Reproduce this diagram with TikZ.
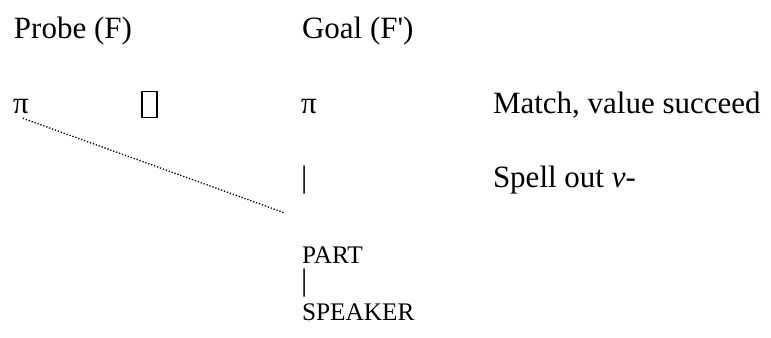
\documentclass[tikz,border=0pt]{standalone}
\usepackage{fontspec}
\setmainfont{Liberation Serif}
\usepackage{tikz}
\usetikzlibrary{calc}

\begin{document}
                \begin{tikzpicture}[x=0.3871pt,y=-0.3871pt,
                    every node/.style={inner sep=0pt,outer sep=0pt,anchor=base west,font=\fontsize{12}{14}\selectfont},
                    feat/.style={font=\fontsize{9.8}{12}\selectfont}]
                    \useasboundingbox (0,0) rectangle (771,337);
                    \node (probe) at (14,38) {Probe (F)};
                    \node (goal) at (302,38) {Goal (F\textquotesingle)};
                    \node (piprobe) at (13,113) {π};
                    \node (gap) at (149.5,104.5) [anchor=center,draw,line width=0.4pt,minimum width=5.8pt,minimum height=10.4pt] {};
                    \node (pigoal) at (301,113) {π};
                    \node (match) at (493,113) {Match, value succeed};
                    \node (bartop) at (301,187) {|};
                    \node (spell) at (493,187) {Spell out \textit{v}-};
                    \node (part) at (302,263) [feat] {PART};
                    \node (barlow) at (301,290) {|};
                    \node (speaker) at (302,320) [feat] {SPEAKER};
                    \coordinate (dotend) at (285,213);
                    \draw [line width=0.5pt,dash pattern=on 0.5pt off 0.7pt] ($(piprobe.south)+(2,5)$) -- (dotend);
                \end{tikzpicture}
\end{document}
